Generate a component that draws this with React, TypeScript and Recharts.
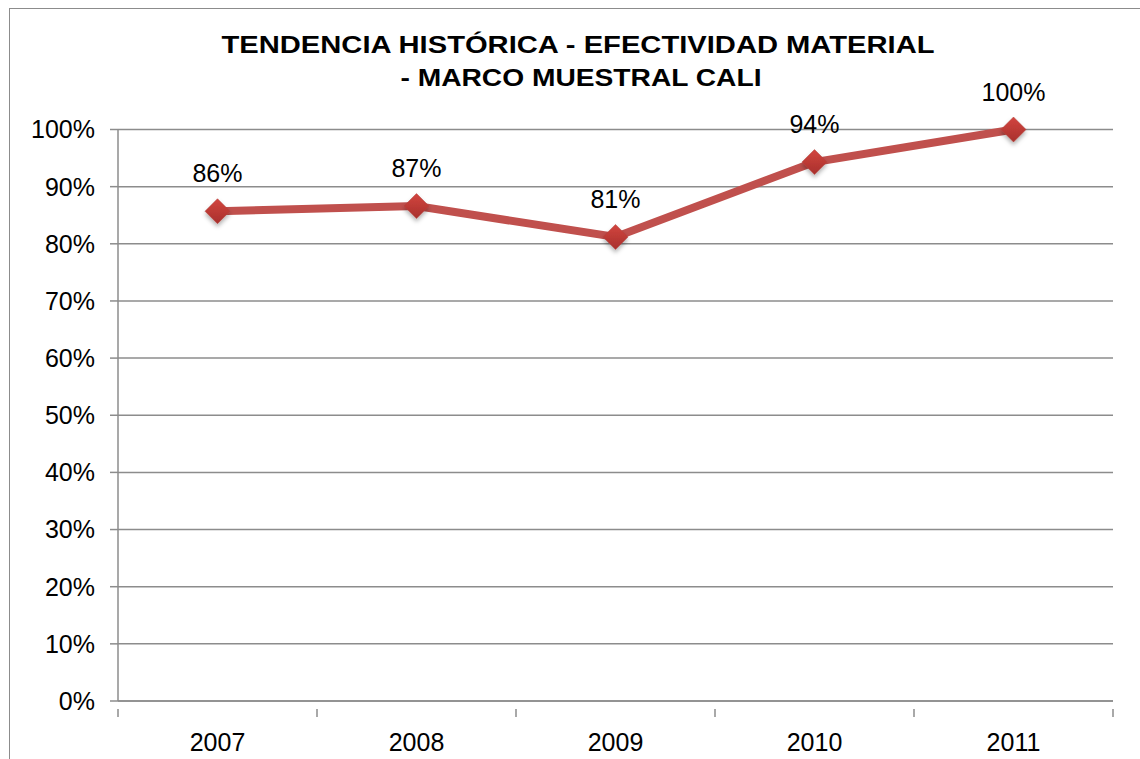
import React from "react";
import { LineChart, Line, XAxis, YAxis, CartesianGrid, LabelList } from "recharts";

const years = ["2007", "2008", "2009", "2010", "2011"];
const efectividad = [0.857, 0.866, 0.812, 0.943, 1.0];
const yTicks = [0, 0.1, 0.2, 0.3, 0.4, 0.5, 0.6, 0.7, 0.8, 0.9, 1.0];
const titleLines = ["TENDENCIA HISTÓRICA - EFECTIVIDAD MATERIAL", "- MARCO MUESTRAL CALI"];

const data = years.map((y, i) => ({ year: y, value: efectividad[i] }));

const FONT = "'Liberation Sans', Arial, sans-serif";
const GRID = "#8c8c8c";
const LINE = "#C0504D";

const pct = (v: number) => `${Math.round(v * 100)}%`;

const Diamond = (props: any) => {
  const { cx, cy, index } = props;
  if (cx == null || cy == null) return null;
  const r = 12.5;
  const d = `M${cx},${cy - r} L${cx + r},${cy} L${cx},${cy + r} L${cx - r},${cy} Z`;
  return (
    <g key={`d-${index}`}>
      <path d={d} fill="url(#diamondGrad)" stroke="#b0403d" strokeWidth={0.5} filter="url(#shadow)" />
    </g>
  );
};

const XTick = (props: any) => {
  const { x, y, payload, index, visibleTicksCount, width } = props;
  const n = visibleTicksCount || years.length;
  const bw = width / n;
  const last = index === n - 1;
  return (
    <g>
      <line x1={x - bw / 2} y1={y} x2={x - bw / 2} y2={y + 8} stroke={GRID} strokeWidth={1.5} />
      {last && <line x1={x + bw / 2} y1={y} x2={x + bw / 2} y2={y + 8} stroke={GRID} strokeWidth={1.5} />}
      <text x={x} y={y + 42} textAnchor="middle" fontSize={25} fontFamily={FONT} fill="#000">
        {payload.value}
      </text>
    </g>
  );
};

const PointLabel = (props: any) => {
  const { x, y, value } = props;
  return (
    <text x={x} y={y - 29} textAnchor="middle" fontSize={25} fontFamily={FONT} fill="#000">
      {pct(value)}
    </text>
  );
};

const titleX = [578, 581];
const titleLen = [713, 361];

export default function App() {
  return (
    <div style={{ position: "absolute", left: 0, top: 0, width: 1140, height: 759, overflow: "hidden", background: "#fff" }}>
      <div
        style={{
          position: "absolute",
          left: 9,
          top: 8,
          width: 1200,
          height: 800,
          border: `1.5px solid ${GRID}`,
          boxSizing: "border-box",
        }}
      />
      <svg width={1140} height={110} style={{ position: "absolute", left: 0, top: 0 }}>
        {titleLines.map((t, i) => (
          <text
            key={i}
            x={titleX[i]}
            y={53 + i * 33}
            textAnchor="middle"
            fontSize={23.5}
            fontWeight="bold"
            fontFamily={FONT}
            fill="#000"
            textLength={titleLen[i]}
            lengthAdjust="spacingAndGlyphs"
          >
            {t}
          </text>
        ))}
      </svg>
      <div style={{ position: "absolute", left: 0, top: 0 }}>
        <LineChart width={1140} height={759} data={data} margin={{ top: 129.5, right: 27, bottom: 0, left: 0 }}>
          <defs>
            <linearGradient id="diamondGrad" x1="0" y1="0" x2="0" y2="1">
              <stop offset="0%" stopColor="#d2453f" />
              <stop offset="100%" stopColor="#a8302c" />
            </linearGradient>
            <filter id="shadow" x="-50%" y="-50%" width="200%" height="200%">
              <feDropShadow dx="0" dy="3" stdDeviation="2" floodColor="#000" floodOpacity="0.3" />
            </filter>
          </defs>
          <CartesianGrid horizontal vertical={false} stroke={GRID} strokeWidth={1.5} />
          <XAxis
            dataKey="year"
            height={58}
            padding={{ left: 99.5, right: 99.5 }}
            axisLine={{ stroke: GRID, strokeWidth: 1.5 }}
            tickLine={false}
            tick={<XTick />}
            interval={0}
          />
          <YAxis
            width={118}
            domain={[0, 1]}
            ticks={yTicks}
            tickFormatter={pct}
            axisLine={{ stroke: GRID, strokeWidth: 1.5 }}
            tickLine={{ stroke: GRID, strokeWidth: 1.5 }}
            tickSize={8}
            tickMargin={15}
            tick={{ fontSize: 25, fontFamily: FONT, fill: "#000" }}
            interval={0}
          />
          <Line
            type="linear"
            dataKey="value"
            stroke={LINE}
            strokeWidth={8}
            dot={<Diamond />}
            activeDot={false}
            isAnimationActive={false}
          >
            <LabelList dataKey="value" content={<PointLabel />} />
          </Line>
        </LineChart>
      </div>
    </div>
  );
}
